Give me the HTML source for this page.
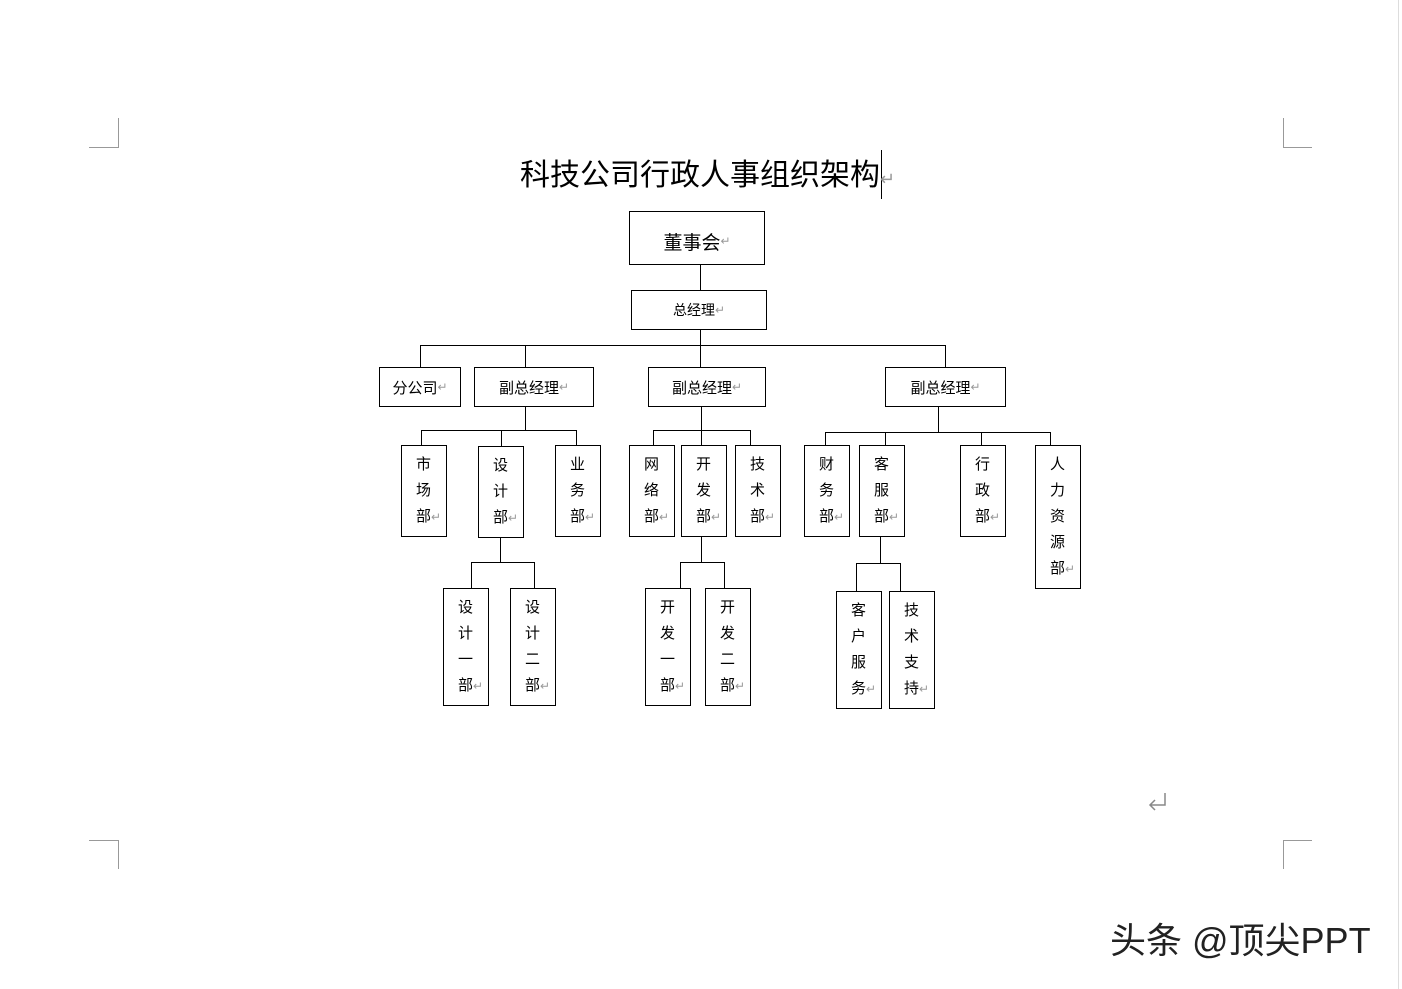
<!DOCTYPE html>
<html><head><meta charset="utf-8"><style>
body{margin:0;width:1402px;height:989px;background:#fff;position:relative;overflow:hidden;font-family:"Liberation Sans","Noto Sans CJK SC",sans-serif;}
.b{position:absolute;box-sizing:border-box;border:1px solid #000;background:#fff;font-size:15px;color:#000;}
.v{padding-top:6px;line-height:26px;padding-left:14px;}
.h{display:flex;align-items:center;justify-content:center;font-size:15px;}
.r{color:#999;font-size:12px;}
svg{position:absolute;left:0;top:0;}
</style></head><body>
<svg width="1402" height="989">
<g stroke="#000" stroke-width="1" fill="none">
<path d="M700.5 265V290M700.5 329V367M420.5 345.5H945.5M420.5 345V367M525.5 345V367M945.5 345V367"/>
<path d="M525.5 406V430.5M421.5 430.5H576.5M421.5 430V445M501.5 430V446M576.5 430V445"/>
<path d="M701.5 406V445M653.5 430.5H750.5M653.5 430V445M750.5 430V445"/>
<path d="M938.5 406V432.5M825.5 432.5H1050.5M825.5 432V445M885.5 432V445M981.5 432V445M1050.5 432V445"/>
<path d="M500.5 538V562.5M471.5 562.5H534.5M471.5 562V588M534.5 562V588"/>
<path d="M701.5 537V562.5M680.5 562.5H724.5M680.5 562V588M724.5 562V588"/>
<path d="M880.5 537V563.5M856.5 563.5H900.5M856.5 563V591M900.5 563V591"/>
</g>
<g stroke="#999" stroke-width="1" fill="none">
<path d="M118.5 118V147.5H89M1283.5 118V147.5H1312M118.5 869V840.5H89M1283.5 869V840.5H1312"/>
<path d="M1398.5 0V989" stroke="#ddd"/>
</g>
<path d="M881.5 150V199" stroke="#000"/>
<path d="M1165 793V805H1150M1155 800L1150 805L1155 810" stroke="#888" stroke-width="1.5" fill="none"/>
</svg>
<div style="position:absolute;left:520px;top:156px;font-size:30px;line-height:40px;white-space:nowrap">科技公司行政人事组织架构<span class="r" style="font-size:18px">↵</span></div>
<div class="b h" style="left:629px;top:211px;width:136px;height:54px;font-size:19px;padding-top:6px">董事会<span class="r">↵</span></div>
<div class="b h" style="left:631px;top:290px;width:136px;height:40px;font-size:14px">总经理<span class="r">↵</span></div>
<div class="b h" style="left:379px;top:367px;width:82px;height:40px">分公司<span class="r">↵</span></div>
<div class="b h" style="left:474px;top:367px;width:120px;height:40px">副总经理<span class="r">↵</span></div>
<div class="b h" style="left:648px;top:367px;width:118px;height:40px">副总经理<span class="r">↵</span></div>
<div class="b h" style="left:885px;top:367px;width:121px;height:40px">副总经理<span class="r">↵</span></div>

<div class="b v" style="left:401px;top:445px;width:46px;height:92px">市<br>场<br>部<span class="r">↵</span></div>
<div class="b v" style="left:478px;top:446px;width:46px;height:92px">设<br>计<br>部<span class="r">↵</span></div>
<div class="b v" style="left:555px;top:445px;width:46px;height:92px">业<br>务<br>部<span class="r">↵</span></div>
<div class="b v" style="left:629px;top:445px;width:46px;height:92px">网<br>络<br>部<span class="r">↵</span></div>
<div class="b v" style="left:681px;top:445px;width:46px;height:92px">开<br>发<br>部<span class="r">↵</span></div>
<div class="b v" style="left:735px;top:445px;width:46px;height:92px">技<br>术<br>部<span class="r">↵</span></div>
<div class="b v" style="left:804px;top:445px;width:46px;height:92px">财<br>务<br>部<span class="r">↵</span></div>
<div class="b v" style="left:859px;top:445px;width:46px;height:92px">客<br>服<br>部<span class="r">↵</span></div>
<div class="b v" style="left:960px;top:445px;width:46px;height:92px">行<br>政<br>部<span class="r">↵</span></div>
<div class="b v" style="left:1035px;top:445px;width:46px;height:144px">人<br>力<br>资<br>源<br>部<span class="r">↵</span></div>

<div class="b v" style="left:443px;top:588px;width:46px;height:118px">设<br>计<br>一<br>部<span class="r">↵</span></div>
<div class="b v" style="left:510px;top:588px;width:46px;height:118px">设<br>计<br>二<br>部<span class="r">↵</span></div>
<div class="b v" style="left:645px;top:588px;width:46px;height:118px">开<br>发<br>一<br>部<span class="r">↵</span></div>
<div class="b v" style="left:705px;top:588px;width:46px;height:118px">开<br>发<br>二<br>部<span class="r">↵</span></div>
<div class="b v" style="left:836px;top:591px;width:46px;height:118px">客<br>户<br>服<br>务<span class="r">↵</span></div>
<div class="b v" style="left:889px;top:591px;width:46px;height:118px">技<br>术<br>支<br>持<span class="r">↵</span></div>

<div style="position:absolute;left:1110px;top:918px;font-size:36px;line-height:46px;color:#222;white-space:nowrap;text-shadow:0 0 2px #fff">头条 @顶尖PPT</div>
</body></html>
